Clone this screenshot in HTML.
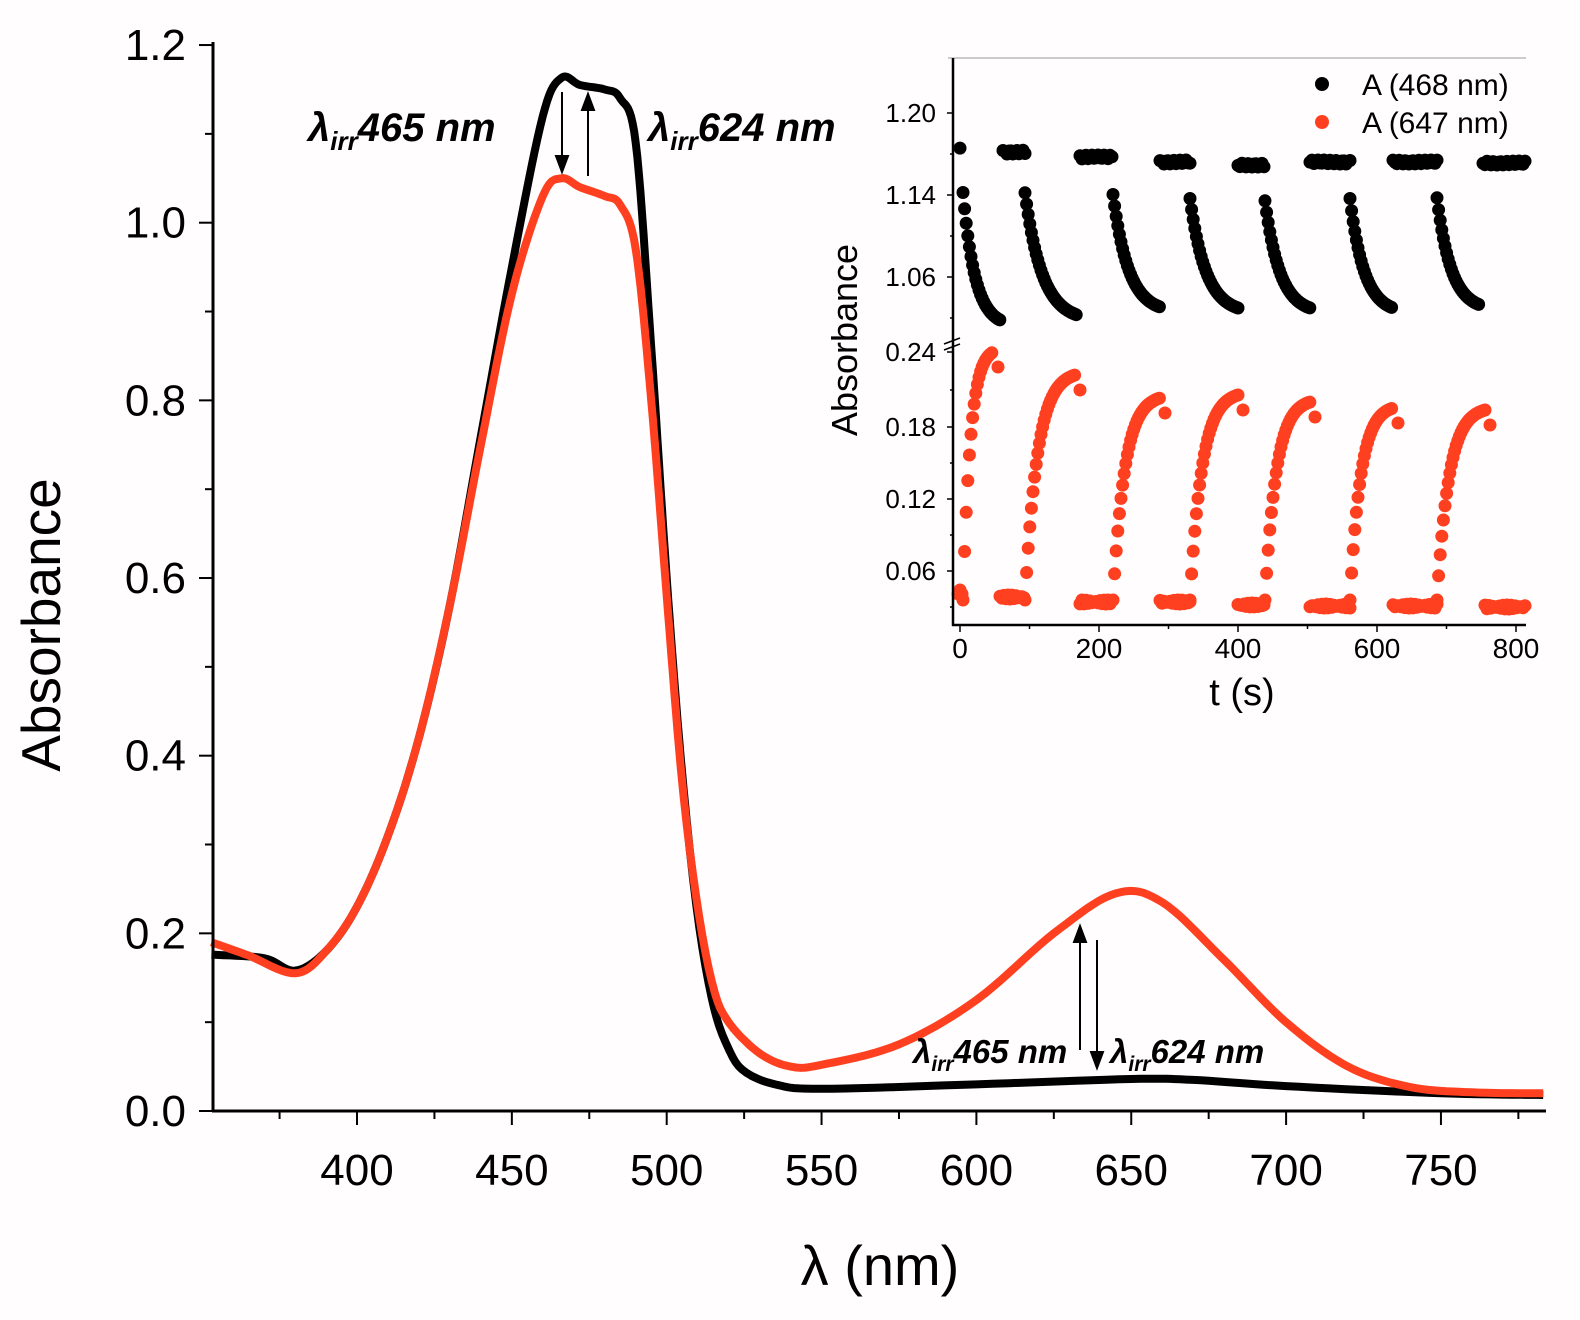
<!DOCTYPE html>
<html><head><meta charset="utf-8"><style>
html,body{margin:0;padding:0;background:#fffdfd;}
svg{display:block;font-family:"Liberation Sans",sans-serif;}
</style></head><body>
<svg id="s" width="1580" height="1320" viewBox="0 0 1580 1320" xmlns="http://www.w3.org/2000/svg">
<rect width="1580" height="1320" fill="#fffdfd"/>
<g id="main"></g>
<g id="inset"></g>
<line x1="213" y1="42" x2="213" y2="1112" stroke="#000" stroke-width="3"/>
<line x1="212" y1="1111" x2="1546" y2="1111" stroke="#000" stroke-width="3"/>
<g id="ticks" stroke="#000" stroke-width="2"></g>
<g font-size="44" fill="#000" text-anchor="end" id="ylab"></g>
<g font-size="44" fill="#000" text-anchor="middle" id="xlab"></g>
<text transform="translate(60,625) rotate(-90)" font-size="55" text-anchor="middle">Absorbance</text>
<text x="880" y="1285" font-size="56" text-anchor="middle">λ (nm)</text>
<g font-weight="bold" font-style="italic" font-size="40">
<text x="308" y="141">λ<tspan font-size="26" dy="9">irr</tspan><tspan dy="-9">465 nm</tspan></text>
<text x="648" y="141">λ<tspan font-size="26" dy="9">irr</tspan><tspan dy="-9">624 nm</tspan></text>
</g>
<g font-weight="bold" font-style="italic" font-size="33">
<text x="913" y="1063">λ<tspan font-size="21" dy="8">irr</tspan><tspan dy="-8">465 nm</tspan></text>
<text x="1110" y="1063">λ<tspan font-size="21" dy="8">irr</tspan><tspan dy="-8">624 nm</tspan></text>
</g>
<g stroke="#000" stroke-width="2" fill="#000">
<line x1="562" y1="92" x2="562" y2="160"/><polygon points="556,156 568,156 562,172"/>
<line x1="588" y1="176" x2="588" y2="106"/><polygon points="582,110 594,110 588,94"/>
<line x1="1080" y1="1050" x2="1080" y2="938"/><polygon points="1074,942 1086,942 1080,926"/>
<line x1="1097" y1="940" x2="1097" y2="1056"/><polygon points="1091,1052 1103,1052 1097,1068"/>
</g>
<line x1="948" y1="58" x2="1526" y2="58" stroke="#ccc" stroke-width="2"/>
<line x1="953" y1="58" x2="953" y2="626" stroke="#000" stroke-width="2.5"/>
<line x1="952" y1="625" x2="1526" y2="625" stroke="#000" stroke-width="2.5"/>
<g id="iticks" stroke="#000" stroke-width="1.5"></g>
<g font-size="26" text-anchor="end" fill="#000">
<text x="936" y="122">1.20</text><text x="936" y="204">1.14</text><text x="936" y="286">1.06</text>
<text x="936" y="361">0.24</text><text x="936" y="436">0.18</text><text x="936" y="508">0.12</text><text x="936" y="580">0.06</text>
</g>
<g font-size="28" text-anchor="middle" fill="#000">
<text x="960" y="658">0</text><text x="1099" y="658">200</text><text x="1238" y="658">400</text><text x="1377" y="658">600</text><text x="1516" y="658">800</text>
</g>
<text x="1242" y="705" font-size="38" text-anchor="middle">t (s)</text>
<text transform="translate(857,340) rotate(-90)" font-size="36" text-anchor="middle">Absorbance</text>
<circle cx="1322" cy="84" r="7" fill="#000"/><circle cx="1322" cy="122" r="7" fill="#ff4020"/>
<text x="1362" y="95" font-size="30">A (468 nm)</text>
<text x="1362" y="133" font-size="30">A (647 nm)</text>
<line x1="944" y1="344" x2="960" y2="338" stroke="#000" stroke-width="1.5"/>
<line x1="944" y1="350" x2="960" y2="344" stroke="#000" stroke-width="1.5"/>
</svg>
<script>
var NS="http://www.w3.org/2000/svg";
function el(p,t,a){var e=document.createElementNS(NS,t);for(var k in a)e.setAttribute(k,a[k]);document.getElementById(p).appendChild(e);return e;}
function X(n){return 357+(n-400)*3.097;}function Y(a){return 1111-a*888.3;}
function path(pts,c){var d="";pts.forEach(function(p,i){d+=(i?"L":"M")+X(p[0]).toFixed(1)+","+Y(p[1]).toFixed(1);});el("main","path",{d:d,fill:"none",stroke:c,"stroke-width":8,"stroke-linejoin":"round"});}
function smooth(pts){var o=[];for(var i=0;i<pts.length-1;i++){var p0=pts[Math.max(0,i-1)],p1=pts[i],p2=pts[i+1],p3=pts[Math.min(pts.length-1,i+2)];for(var t=0;t<1;t+=0.1){var t2=t*t,t3=t2*t;function f(a,b,c,d){return 0.5*(2*b+(-a+c)*t+(2*a-5*b+4*c-d)*t2+(-a+3*b-3*c+d)*t3);}o.push([f(p0[0],p1[0],p2[0],p3[0]),f(p0[1],p1[1],p2[1],p3[1])]);}}o.push(pts[pts.length-1]);return o;}
var blk=[[353,0.176],[370,0.172],[380,0.158],[390,0.18],[400,0.23],[410,0.31],[420,0.42],[430,0.57],[440,0.76],[450,0.95],[460,1.12],[466,1.163],[472,1.155],[480,1.15],[485,1.14],[490,1.09],[495,0.86],[500,0.6],[505,0.38],[510,0.22],[515,0.12],[520,0.07],[525,0.045],[535,0.03],[550,0.025],[600,0.03],[650,0.036],[670,0.035],[700,0.028],[750,0.02],[783,0.018]];
var red=[[353,0.19],[365,0.175],[380,0.155],[390,0.18],[400,0.23],[410,0.31],[420,0.42],[430,0.57],[440,0.75],[450,0.92],[460,1.03],[466,1.05],[472,1.04],[480,1.03],[485,1.02],[490,0.97],[495,0.8],[500,0.58],[505,0.37],[510,0.23],[515,0.14],[520,0.1],[530,0.065],[540,0.05],[550,0.052],[575,0.075],[600,0.125],[625,0.2],[645,0.245],[660,0.235],[680,0.17],[700,0.1],[720,0.05],[740,0.027],[760,0.021],[783,0.02]];
path(smooth(blk),"#000");path(smooth(red),"#ff4020");
for(var a=0;a<=12;a++){var y=Y(a/10),L=a%2?8:14;el("ticks","line",{x1:213-L,y1:y,x2:213,y2:y});if(a%2==0){var t=el("ylab","text",{x:186,y:y+15});t.textContent=(a/10).toFixed(1);}}
for(var n=375;n<=775;n+=25){var x=X(n),L=(n%50)?8:14;el("ticks","line",{x1:x,y1:1111,x2:x,y2:1111+L});if(n%50==0){var t=el("xlab","text",{x:x,y:1185});t.textContent=n;}}
[113,195,277,352,427,499,571].forEach(function(y){el("iticks","line",{x1:947,y1:y,x2:953,y2:y});});
[154,236,318,390,463,535,607].forEach(function(y){el("iticks","line",{x1:950,y1:y,x2:953,y2:y});});
for(var t=0;t<=800;t+=100){var x=960+t*0.695;el("iticks","line",{x1:x,y1:625,x2:x,y2:t%200?629:632});}
function dot(x,y,c){el("inset","circle",{cx:x.toFixed(1),cy:y.toFixed(1),r:6.5,fill:c});}
var bt=[[963,1000,150,320],[1025,1077,152,315],[1113,1160,157,307],[1190,1238,162,308],[1265,1310,165,308],[1350,1393,162,308],[1437,1480,162,305]];
var btop=[[960,960,150],[1003,1025,152],[1080,1113,157],[1160,1190,162],[1238,1265,165],[1310,1350,162],[1393,1437,162],[1483,1525,163]];
btop.forEach(function(s){for(var x=s[0];x<=s[1];x+=2)dot(x,s[2]+Math.sin(x)*2,"#000");});
bt.forEach(function(s){var x0=s[0],x1=s[1],w=x1-x0;for(var x=x0;x<=x1;x+=1.6){var f=(x-x0)/w;var y=s[3]-(s[3]-s[2])*(Math.exp(-3*f)-Math.exp(-3))/(1-Math.exp(-3))*0.75;dot(x,y,"#000");}});
var rlow=[[958,962,592],[1000,1025,597],[1080,1113,602],[1160,1190,602],[1238,1265,605],[1310,1350,606],[1393,1437,606],[1485,1525,607]];
var rr=[[963,993,352],[1025,1075,375],[1113,1160,398],[1190,1238,395],[1265,1310,402],[1350,1393,408],[1437,1485,410]];
rlow.forEach(function(s){for(var x=s[0];x<=s[1];x+=2)dot(x,s[2]+Math.sin(x*1.7)*2,"#ff4020");});
rr.forEach(function(s){var x0=s[0],x1=s[1],w=x1-x0,lo=600;for(var x=x0;x<=x1;x+=1.6){var f=(x-x0)/w;var y=lo-(lo-s[2])*(1-Math.exp(-4*f))/(1-Math.exp(-4));dot(x,y,"#ff4020");}dot(x1+5,s[2]+15,"#ff4020");});
</script>
</body></html>
